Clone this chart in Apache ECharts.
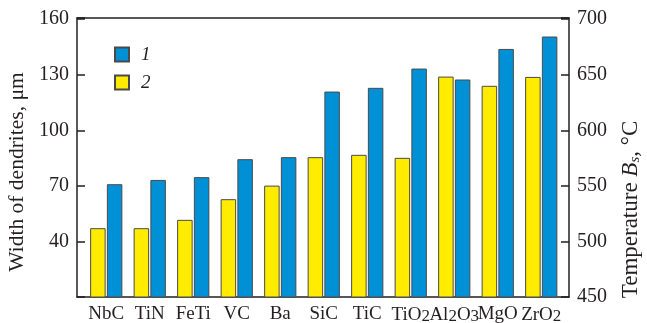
<!DOCTYPE html>
<html>
<head>
<meta charset="utf-8">
<script src="https://cdn.jsdelivr.net/npm/echarts@6/dist/echarts.min.js"></script>
<style>html,body{margin:0;padding:0;background:#fff;}#c{width:647px;height:323px;}</style>
</head>
<body>
<div id="c"></div>
<script>
const categories = ['NbC','TiN','FeTi','VC','Ba','SiC','TiC','TiO2','Al2O3','MgO','ZrO2'];
const widthDendrites = [70.9, 73.2, 74.7, 84.4, 85.5, 120.9, 122.9, 133.3, 127.4, 143.9, 150.6]; // series 1, µm
const temperatureBs = [511.9, 511.9, 519.4, 538.0, 550.2, 575.8, 577.9, 575.2, 648.3, 640.0, 648.0]; // series 2, °C
const leftTicks = [40, 70, 100, 130, 160];
const rightTicks = [450, 500, 550, 600, 650, 700];

const FONT = 'Liberation Serif';
const INK = '#231f20';
const chart = echarts.init(document.getElementById('c'), null, {renderer: 'canvas'});
const axisLine = {show: true, onZero: false, lineStyle: {color: INK, width: 1.5}};
const leftMin = 10, leftMax = 160.6, rightMin = 450, rightMax = 701;

chart.setOption({
  animation: false,
  backgroundColor: '#fff',
  grid: [
    {left: 77, right: 78, top: 18, bottom: 26, containLabel: false, outerBoundsMode: 'none'},
    {left: 84.5, right: 84, top: 18, bottom: 26, containLabel: false, outerBoundsMode: 'none'}
  ],
  legend: {
    data: ['1', '2'],
    orient: 'vertical',
    left: 109, top: 40,
    itemWidth: 14, itemHeight: 14, itemGap: 9,
    icon: 'rect',
    textStyle: {fontFamily: FONT, fontSize: 19, fontStyle: 'italic', color: INK, padding: [0, 0, 0, 7]}
  },
  xAxis: [
    {type: 'value', gridIndex: 0, min: 0, max: 1, position: 'bottom', axisLine: axisLine,
     axisTick: {show: false}, axisLabel: {show: false}, splitLine: {show: false}},
    {type: 'value', gridIndex: 0, min: 0, max: 1, position: 'top', axisLine: axisLine,
     axisTick: {show: false}, axisLabel: {show: false}, splitLine: {show: false}},
    {type: 'category', gridIndex: 1, data: categories, position: 'bottom',
     axisLine: {show: false, onZero: false}, axisTick: {show: false},
     axisLabel: {
       interval: 0, margin: 8, color: INK, fontFamily: FONT, fontSize: 19,
       formatter: v => v.replace(/(\d)/g, '{s|$1}'),
       rich: {s: {fontFamily: FONT, fontSize: 17, color: INK, padding: [3, 0, 0, 0]}}
     }}
  ],
  yAxis: [
    {type: 'value', gridIndex: 0, position: 'left', min: leftMin, max: leftMax, interval: 30,
     axisLine: axisLine, axisTick: {show: true, inside: true, length: 8, lineStyle: {color: INK, width: 1.5}},
     splitLine: {show: false},
     axisLabel: {margin: 8, color: INK, fontFamily: FONT, fontSize: 20,
       formatter: v => leftTicks.indexOf(Math.round(v * 100) / 100) >= 0 ? String(v) : ''},
     name: 'Width of dendrites, μm', nameLocation: 'middle', nameRotate: 90, nameGap: 45,
     nameTextStyle: {fontFamily: FONT, fontSize: 21.5, color: INK, padding: [0, 29, 0, 0]}},
    {type: 'value', gridIndex: 0, position: 'right', min: rightMin, max: rightMax, interval: 50,
     axisLine: axisLine, axisTick: {show: true, inside: true, length: 8, lineStyle: {color: INK, width: 1.5}},
     splitLine: {show: false},
     axisLabel: {margin: 8, color: INK, fontFamily: FONT, fontSize: 20,
       formatter: v => rightTicks.indexOf(Math.round(v * 100) / 100) >= 0 ? String(v) : ''},
     name: 'Temperature {i|B}{s|s}, °C', nameLocation: 'middle', nameRotate: 90, nameGap: 50,
     nameTextStyle: {fontFamily: FONT, fontSize: 23, color: INK, padding: [0, 104, 0, 0],
       rich: {i: {fontFamily: FONT, fontSize: 23, fontStyle: 'italic', color: INK},
              s: {fontFamily: FONT, fontSize: 15, fontStyle: 'italic', color: INK, padding: [9, 0, 0, 0]}}}},
    {type: 'value', gridIndex: 1, show: false, min: leftMin, max: leftMax},
    {type: 'value', gridIndex: 1, show: false, min: rightMin, max: rightMax}
  ],
  series: [
    {name: '2', type: 'bar', xAxisIndex: 2, yAxisIndex: 3, data: temperatureBs,
     barWidth: 15.5, barGap: '8%',
     itemStyle: {color: '#FFEC00', borderColor: '#4a4a4a', borderWidth: 1}},
    {name: '1', type: 'bar', xAxisIndex: 2, yAxisIndex: 2, data: widthDendrites,
     barWidth: 15.5, barGap: '8%',
     itemStyle: {color: '#0090D5', borderColor: '#4a4a4a', borderWidth: 1}}
  ]
});
</script>
</body>
</html>
